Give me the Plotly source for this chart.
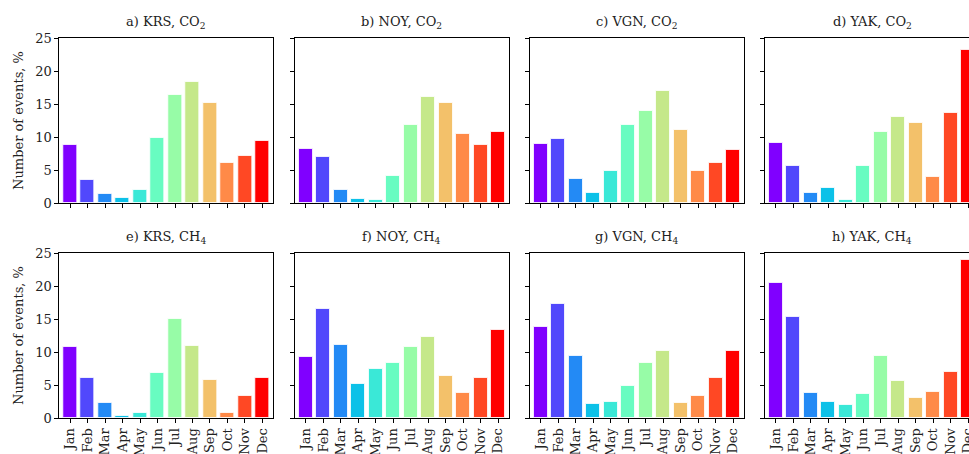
import math
import plotly.graph_objects as go

months = ["Jan", "Feb", "Mar", "Apr", "May", "Jun", "Jul", "Aug", "Sep", "Oct", "Nov", "Dec"]

titles = [
    "a) KRS, CO<sub>2</sub>", "b) NOY, CO<sub>2</sub>", "c) VGN, CO<sub>2</sub>", "d) YAK, CO<sub>2</sub>",
    "e) KRS, CH<sub>4</sub>", "f) NOY, CH<sub>4</sub>", "g) VGN, CH<sub>4</sub>", "h) YAK, CH<sub>4</sub>",
]

krs_co2 = [8.8, 3.5, 1.3, 0.8, 2.0, 9.8, 16.4, 18.3, 15.1, 6.1, 7.1, 9.4]
noy_co2 = [8.2, 7.0, 2.0, 0.6, 0.5, 4.1, 11.8, 16.0, 15.2, 10.4, 8.8, 10.7]
vgn_co2 = [8.9, 9.7, 3.6, 1.5, 4.9, 11.8, 13.9, 16.9, 11.0, 4.8, 6.1, 8.0]
yak_co2 = [9.1, 5.6, 1.5, 2.2, 0.5, 5.6, 10.8, 13.1, 12.1, 3.9, 13.6, 23.2]
krs_ch4 = [10.8, 6.1, 2.3, 0.3, 0.7, 6.8, 15.0, 10.9, 5.7, 0.7, 3.3, 6.1]
noy_ch4 = [9.2, 16.5, 11.0, 5.2, 7.5, 8.4, 10.7, 12.3, 6.3, 3.8, 6.1, 13.3]
vgn_ch4 = [13.8, 17.2, 9.4, 2.1, 2.5, 4.9, 8.3, 10.1, 2.2, 3.3, 6.1, 10.2]
yak_ch4 = [20.4, 15.3, 3.8, 2.4, 2.0, 3.7, 9.4, 5.6, 3.0, 3.9, 6.9, 23.9]

series = [krs_co2, noy_co2, vgn_co2, yak_co2, krs_ch4, noy_ch4, vgn_ch4, yak_ch4]


def rainbow(x):
    r = min(1.0, abs(2 * x - 0.5))
    g = math.sin(math.pi * x)
    b = math.cos(math.pi / 2 * x)
    return "rgb(%d,%d,%d)" % (round(r * 255), round(g * 255), round(max(b, 0) * 255))


colors = [rainbow(i / 11) for i in range(12)]

W, H = 969, 454
xdom_px = [(59.3, 273.3), (295, 508.7), (530, 743.7), (765, 969)]
ydom_px = [(38, 203), (253, 418)]
pxu = 17.48

FONT = "DejaVu Serif"
fig = go.Figure()

for k in range(8):
    row, col = divmod(k, 4)
    idx = k + 1
    xa = "x" if idx == 1 else "x%d" % idx
    ya = "y" if idx == 1 else "y%d" % idx
    fig.add_trace(go.Bar(
        x=list(range(12)), y=series[k], width=0.8,
        marker=dict(color=colors, line=dict(color="rgba(255,255,255,0.8)", width=1)),
        xaxis=xa, yaxis=ya, showlegend=False,
    ))
    x0, x1 = xdom_px[col]
    y0, y1 = ydom_px[row]
    xr0 = -0.62
    xr1 = xr0 + (x1 - x0) / pxu
    xkey = "xaxis" if idx == 1 else "xaxis%d" % idx
    ykey = "yaxis" if idx == 1 else "yaxis%d" % idx
    fig.layout[xkey] = dict(
        domain=[x0 / W, x1 / W], anchor=ya, range=[xr0, xr1],
        tickmode="array", tickvals=list(range(12)), ticktext=months,
        showticklabels=(row == 1), tickangle=-90, ticklabeloverflow="allow",
        ticks="outside", ticklen=4, tickwidth=1, tickcolor="black",
        showline=True, linecolor="black", linewidth=1, mirror=True,
        showgrid=False, zeroline=False, automargin=False,
        tickfont=dict(family=FONT, size=13, color="#222"),
    )
    fig.layout[ykey] = dict(
        domain=[(H - y1) / H, (H - y0) / H], anchor=xa, range=[0, 25],
        tickmode="array", tickvals=[0, 5, 10, 15, 20, 25],
        showticklabels=(col == 0),
        ticks="outside", ticklen=4, tickwidth=1, tickcolor="black",
        showline=True, linecolor="black", linewidth=1, mirror=(col != 3),
        showgrid=False, zeroline=False, automargin=False,
        tickfont=dict(family=FONT, size=13, color="#222"),
        title=dict(text="Number of events, %" if col == 0 else "",
                   font=dict(family=FONT, size=13, color="#222"), standoff=8),
    )
    xc = (x0 + x1) / 2 if col != 3 else (765 + 979) / 2
    fig.add_annotation(
        text=titles[k], x=xc / W,
        y=(H - y0 + 5) / H, xref="paper", yref="paper",
        xanchor="center", yanchor="bottom", showarrow=False,
        font=dict(family=FONT, size=13, color="#222"),
    )

fig.update_layout(
    width=W, height=H, margin=dict(l=0, r=0, t=0, b=0),
    paper_bgcolor="white", plot_bgcolor="white", bargap=0,
)

fig.write_html("out.html")
